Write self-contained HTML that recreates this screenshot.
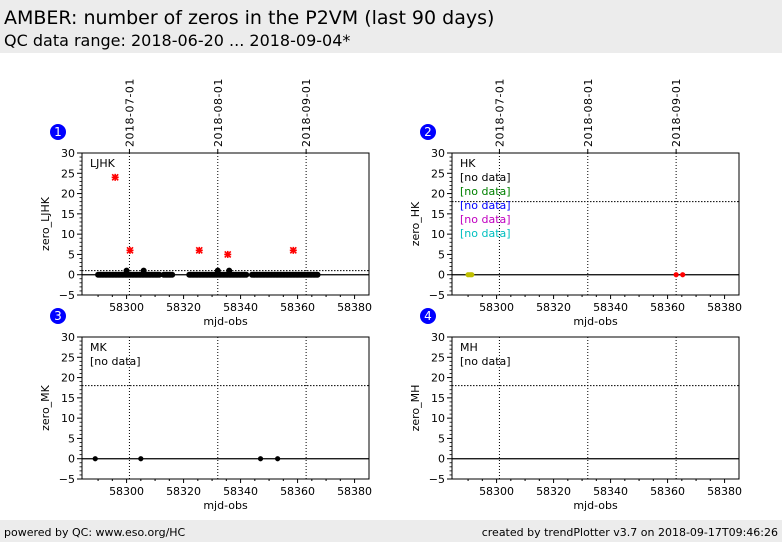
<!DOCTYPE html>
<html><head><meta charset="utf-8"><style>
body{margin:0;width:782px;height:542px;background:#fff;font-family:"DejaVu Sans",sans-serif;overflow:hidden}
</style></head><body>
<svg id="s" width="782" height="542" xmlns="http://www.w3.org/2000/svg" font-family="DejaVu Sans, Liberation Sans, sans-serif">
<rect x="0" y="0" width="782" height="53" fill="#ececec"/>
<text x="4" y="24" font-size="19">AMBER: number of zeros in the P2VM (last 90 days)</text>
<text x="4" y="46" font-size="16">QC data range: 2018-06-20 ... 2018-09-04*</text>
<rect x="0" y="520" width="782" height="22" fill="#ececec"/>
<text x="4" y="536" font-size="11">powered by QC: www.eso.org/HC</text>
<text x="778" y="536" font-size="11" text-anchor="end">created by trendPlotter v3.7 on 2018-09-17T09:46:26</text>
<g id="g"></g>
</svg>
<script>
var g=document.getElementById('g'),h='';
function P(px,py,num,name,lab,hline,showDates){
 var W=287,H=142,ppd=2.85;
 function X(m){return px+46+(m-58300.5)*ppd}
 function Y(v){return py+(30-v)*H/35}
 h+='<circle cx="'+(px-24)+'" cy="'+(py-21)+'" r="8" fill="#0000ff"/><text x="'+(px-24)+'" y="'+(py-17)+'" fill="#fff" font-size="12" text-anchor="middle">'+num+'</text>';
 for(var v=-5;v<=30;v+=5){var y=Y(v);h+='<line x1="'+(px-5)+'" x2="'+px+'" y1="'+y+'" y2="'+y+'" stroke="#000"/><text x="'+(px-7)+'" y="'+(y+4)+'" font-size="11" text-anchor="end">'+(v<0?'\u22125':v)+'</text>';}
 for(var v=-5;v<=30;v+=1){if(v%5){var y=Y(v);h+='<line x1="'+(px-2.5)+'" x2="'+px+'" y1="'+y+'" y2="'+y+'" stroke="#000" stroke-width="0.8"/>';}}
 for(var m=58300;m<=58380;m+=20){var x=X(m);h+='<line x1="'+x+'" x2="'+x+'" y1="'+(py+H)+'" y2="'+(py+H+4)+'" stroke="#000"/><text x="'+x+'" y="'+(py+H+16)+'" font-size="11" text-anchor="middle">'+m+'</text>';}
 for(var m=58290;m<=58380;m+=5){if(m%20){var x=X(m);h+='<line x1="'+x+'" x2="'+x+'" y1="'+(py+H)+'" y2="'+(py+H+2)+'" stroke="#000"/>';}}
 h+='<text x="'+(px+W/2)+'" y="'+(py+H+30)+'" font-size="11" text-anchor="middle">mjd-obs</text>';
 h+='<text transform="translate('+(px-33)+','+(py+H/2)+') rotate(-90)" font-size="11" text-anchor="middle">'+name+'</text>';
 var ds=['2018-07-01','2018-08-01','2018-09-01'],dm=[58301,58332,58363];
 for(var i=0;i<3;i++){var x=X(dm[i]);h+='<line x1="'+x+'" x2="'+x+'" y1="'+py+'" y2="'+(py+H)+'" stroke="#000" stroke-dasharray="1,2"/>';
  if(showDates){h+='<line x1="'+x+'" x2="'+x+'" y1="'+py+'" y2="'+(py-4)+'" stroke="#000"/><text transform="translate('+(x+4)+','+(py-6)+') rotate(-90)" font-size="11" letter-spacing="0.5">'+ds[i]+'</text>';}}
 h+='<line x1="'+px+'" x2="'+(px+W)+'" y1="'+Y(hline)+'" y2="'+Y(hline)+'" stroke="#000" stroke-dasharray="1.5,1.5"/>';
 h+='<line x1="'+px+'" x2="'+(px+W)+'" y1="'+Y(0)+'" y2="'+Y(0)+'" stroke="#000" stroke-width="1.2"/>';
 h+='<rect x="'+px+'" y="'+py+'" width="'+W+'" height="'+H+'" fill="none" stroke="#000"/>';
 for(var i=0;i<lab.length;i++)h+='<text x="'+(px+8)+'" y="'+(py+14+i*14)+'" font-size="11" fill="'+lab[i][1]+'">'+lab[i][0]+'</text>';
 return {X:X,Y:Y};
}
var a=P(82,153,1,'zero_LJHK',[['LJHK','#000']],1,true);
var segs=[[58290,58311.5],[58313,58316],[58322,58342],[58344,58367]];
segs.forEach(function(s){for(var m=s[0];m<=s[1];m+=0.5)h+='<circle cx="'+a.X(m)+'" cy="'+a.Y(0)+'" r="3"/>';});
[[58300,1],[58306,1],[58332,1],[58336,1]].forEach(function(p){h+='<circle cx="'+a.X(p[0])+'" cy="'+a.Y(p[1])+'" r="3"/>';});
[[58296,24],[58301.2,6],[58325.5,6],[58335.5,5],[58358.5,6]].forEach(function(p){var x=a.X(p[0]),y=a.Y(p[1]);
 h+='<g stroke="#f00" stroke-width="1.6"><line x1="'+(x-3)+'" y1="'+(y-3)+'" x2="'+(x+3)+'" y2="'+(y+3)+'"/><line x1="'+(x-3)+'" y1="'+(y+3)+'" x2="'+(x+3)+'" y2="'+(y-3)+'"/><line x1="'+(x-3.5)+'" y1="'+y+'" x2="'+(x+3.5)+'" y2="'+y+'"/><line x1="'+x+'" y1="'+(y-3.5)+'" x2="'+x+'" y2="'+(y+3.5)+'"/></g>';});
var b=P(452,153,2,'zero_HK',[['HK','#000'],['[no data]','#000'],['[no data]','#008000'],['[no data]','#0000ff'],['[no data]','#c000c0'],['[no data]','#00bfbf']],18,true);
[58290,58290.7,58291.3].forEach(function(m){h+='<circle cx="'+b.X(m)+'" cy="'+b.Y(0)+'" r="2.6" fill="#bfbf00"/>';});
[58363,58365.3].forEach(function(m){h+='<circle cx="'+b.X(m)+'" cy="'+b.Y(0)+'" r="2.6" fill="#f00"/>';});
var c=P(82,337,3,'zero_MK',[['MK','#000'],['[no data]','#000']],18,false);
[58289,58305,58347,58353].forEach(function(m){h+='<circle cx="'+c.X(m)+'" cy="'+c.Y(0)+'" r="2.6"/>';});
var d=P(452,337,4,'zero_MH',[['MH','#000'],['[no data]','#000']],18,false);
g.innerHTML=h;
</script>
</body></html>
